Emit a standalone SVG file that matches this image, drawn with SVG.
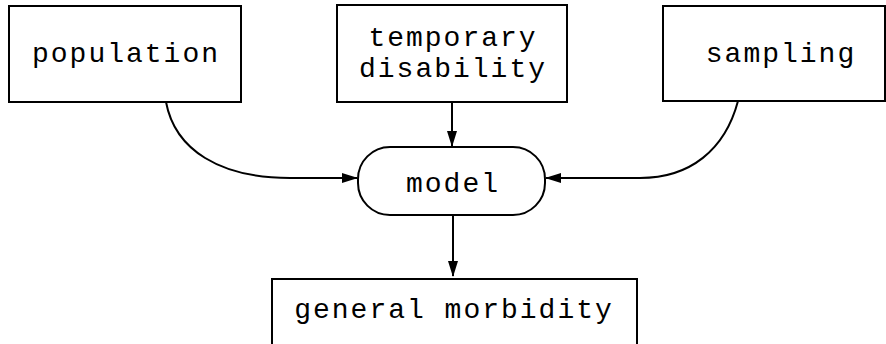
<svg xmlns="http://www.w3.org/2000/svg" width="886" height="344" viewBox="0 0 886 344">
<defs>
<style>
.box{fill:#fff;stroke:#000;stroke-width:2}
.t{font-family:"Liberation Mono","Courier New",monospace;font-size:28px;letter-spacing:2px;fill:#000;text-anchor:middle}
.c{fill:none;stroke:#000;stroke-width:2}
</style>
<marker id="ah" viewBox="0 0 16 10" refX="15" refY="5" markerWidth="16" markerHeight="10" markerUnits="userSpaceOnUse" orient="auto">
<path d="M0,0 L16,5 L0,10 Z" fill="#000"/>
</marker>
</defs>
<rect width="886" height="344" fill="#fff"/>
<g id="population"><rect class="box" x="9" y="6" width="232" height="96"/><text class="t" x="126" y="62">population</text></g>
<g id="temporary-disability"><rect class="box" x="337" y="5" width="230" height="97"/><text class="t" x="453" y="46">temporary</text><text class="t" x="453" y="77">disability</text></g>
<g id="sampling"><rect class="box" x="663" y="6" width="222" height="95"/><text class="t" x="781" y="62">sampling</text></g>
<g id="model"><rect class="box" x="358" y="147" width="187" height="68" rx="32" ry="32"/><text class="t" x="453" y="192">model</text></g>
<g id="general-morbidity"><rect class="box" x="272" y="279" width="365" height="80"/><text class="t" x="454" y="318">general morbidity</text></g>
<g id="connectors">
<path class="c" d="M452,102 L452,146" marker-end="url(#ah)"/>
<path class="c" d="M453,215 L453,276" marker-end="url(#ah)"/>
<path class="c" d="M166,102 C175,150 220,178 290,178 L357,178" marker-end="url(#ah)"/>
<path class="c" d="M738,101 C725,150 690,178 640,178 L546,178" marker-end="url(#ah)"/>
</g>
</svg>
